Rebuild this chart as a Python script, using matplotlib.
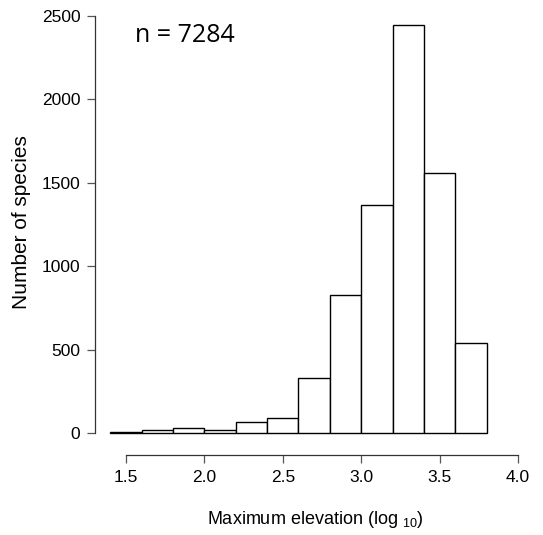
import matplotlib
matplotlib.use("Agg")
import matplotlib.pyplot as plt
import numpy as np

bin_edges = [1.4, 1.6, 1.8, 2.0, 2.2, 2.4, 2.6, 2.8, 3.0, 3.2, 3.4, 3.6, 3.8]
counts = [4, 15, 30, 15, 65, 88, 330, 827, 1367, 2446, 1557, 538]
x_ticks = [1.5, 2.0, 2.5, 3.0, 3.5, 4.0]
y_ticks = [0, 500, 1000, 1500, 2000, 2500]
annotation = "n = 7284"

plt.rcParams['font.family'] = ['Liberation Sans', 'DejaVu Sans']
plt.rcParams['mathtext.fontset'] = 'custom'
plt.rcParams['mathtext.rm'] = 'Liberation Sans'
plt.rcParams['mathtext.it'] = 'Liberation Sans'

W, H = 543, 535
fig = plt.figure(figsize=(W/100, H/100), dpi=100)

# pixel-based axes box
px0, px1 = 90, 525
py_top, py_bot = 10, 460
ax = fig.add_axes([px0/W, 1 - py_bot/H, (px1-px0)/W, (py_bot-py_top)/H])

def xd(px):
    return 1.5 + (px - 126) / 156.8

def yd(py):
    return (433 - py) / 0.1668

ax.set_xlim(xd(px0), xd(px1))
ax.set_ylim(yd(py_bot), yd(py_top))

lefts = np.array(bin_edges[:-1])
widths = np.diff(bin_edges)
ax.bar(lefts, counts, width=widths, align='edge', facecolor='white',
       edgecolor='black', linewidth=1.0)

for s in ['top', 'right']:
    ax.spines[s].set_visible(False)
ax.spines['left'].set_position(('data', xd(95)))
ax.spines['left'].set_bounds(0, 2500)
ax.spines['bottom'].set_position(('data', yd(455)))
ax.spines['bottom'].set_bounds(1.5, 4.0)
for s in ['left', 'bottom']:
    ax.spines[s].set_linewidth(0.9)
    ax.spines[s].set_color('#333333')

ax.set_xticks(x_ticks)
ax.set_xticklabels([f"{t:.1f}" for t in x_ticks])
ax.set_yticks(y_ticks)
ax.set_yticklabels([str(t) for t in y_ticks])
ax.tick_params(axis='both', direction='out', length=5.5, width=0.9,
               color='#555555', labelsize=12.5, pad=5)
ax.patch.set_visible(False)

fig.text(22/W, 1 - 222/H, "Number of species", rotation=90, ha='center',
         va='center', fontsize=15)
fig.text(315/W, 1 - 520/H, r"Maximum elevation (log $_{10}$)", ha='center',
         va='center', fontsize=13)
fig.text(135/W, 1 - 36/H, annotation, ha='left', va='center', fontsize=18,
         family=['Open Sans', 'DejaVu Sans'])

fig.savefig("out.png", dpi=100)
